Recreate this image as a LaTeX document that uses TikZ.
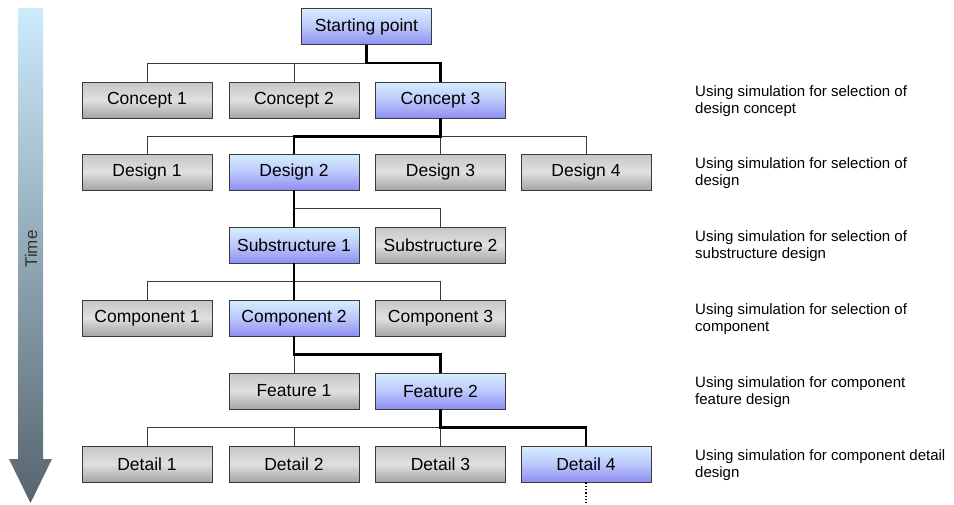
\documentclass[tikz,border=0pt]{standalone}
\usepackage{fontspec}
\setmainfont{Liberation Sans}
\usetikzlibrary{calc}
\definecolor{edge}{HTML}{3A3A3A}
\definecolor{greytop}{HTML}{C6C6C6}
\definecolor{greymid}{HTML}{E0E0E0}
\definecolor{greybot}{HTML}{A4A4A4}
\definecolor{bluetop}{HTML}{D4EEFF}
\definecolor{bluemid}{HTML}{BCC8FB}
\definecolor{bluebot}{HTML}{8E8EF2}
\definecolor{timetop}{HTML}{CCEBFC}
\definecolor{timebot}{HTML}{56646E}
\tikzset{
  boxbase/.style={draw=edge, line width=0.9pt, minimum width=130pt, minimum height=36pt,
    inner sep=0pt, font=\fontsize{17.5}{20}\selectfont},
  greybox/.style={boxbase, top color=greytop, bottom color=greybot, middle color=greymid},
  bluebox/.style={boxbase, top color=bluetop, bottom color=bluebot, middle color=bluemid},
  link/.style={draw=edge, line width=0.9pt},
  chosen/.style={draw=black, line width=2.4pt},
  note/.style={anchor=west, align=left, inner sep=0pt, text=black,
    font=\fontsize{15}{17}\selectfont},
}
\begin{document}
\begin{tikzpicture}[x=1pt,y=-1pt]
\useasboundingbox (0,0) rectangle (954,504);

% time axis
\shade[top color=timetop, bottom color=timebot]
  (18,8) -- (43,8) -- (43,459) -- (52,459) -- (30.5,503) -- (9,459) -- (18,459) -- cycle;
\node[rotate=90, text=black!80, font=\fontsize{17}{20}\selectfont] (time) at (31,249) {Time};

% boxes
\node[bluebox] (sp) at (366.5,26.5) {Starting point};

\node[greybox] (c1) at (147,100) {Concept 1};
\node[greybox] (c2) at (294,100) {Concept 2};
\node[bluebox] (c3) at (440.5,100) {Concept 3};

\node[greybox] (d1) at (147,172) {Design 1};
\node[bluebox] (d2) at (294,172) {Design 2};
\node[greybox] (d3) at (440.5,172) {Design 3};
\node[greybox] (d4) at (586,172) {Design 4};

\node[bluebox] (s1) at (294,245) {Substructure 1};
\node[greybox] (s2) at (440.5,245) {Substructure 2};

\node[greybox] (k1) at (147,318) {Component 1};
\node[bluebox] (k2) at (294,318) {Component 2};
\node[greybox] (k3) at (440.5,318) {Component 3};

\node[greybox] (f1) at (294,391) {Feature 1};
\node[bluebox] (f2) at (440.5,391) {Feature 2};

\node[greybox] (e1) at (147,464) {Detail 1};
\node[greybox] (e2) at (294,464) {Detail 2};
\node[greybox] (e3) at (440.5,464) {Detail 3};
\node[bluebox] (e4) at (586,464) {Detail 4};

% branching buses
\coordinate (b1) at ($(sp.south)+(0,18)$);
\coordinate (b2) at ($(c3.south)+(0,18)$);
\coordinate (b3) at ($(d2.south)+(0,18)$);
\coordinate (b4) at ($(s1.south)+(0,18)$);
\coordinate (b5) at ($(k2.south)+(0,18)$);
\coordinate (b6) at ($(f2.south)+(0,18)$);

\draw[link] (c1.north) |- (b1) -| (c3.north);
\draw[link] (c2.north) -- (c2.north |- b1);
\draw[link] (sp.south) -- (b1);

\draw[link] (d1.north) |- (b2) -| (d4.north);
\draw[link] (d2.north) -- (d2.north |- b2);
\draw[link] (c3.south) -- (d3.north);

\draw[link] (d2.south) |- (b3) -| (s2.north);
\draw[link] (b3) -- (s1.north);

\draw[link] (k1.north) |- (b4) -| (k3.north);
\draw[link] (s1.south) -- (k2.north);

\draw[link] (k2.south) |- (b5) -| (f2.north);
\draw[link] (b5) -- (f1.north);

\draw[link] (e1.north) |- (b6) -| (e4.north);
\draw[link] (e2.north) -- (e2.north |- b6);
\draw[link] (f2.south) -- (e3.north);

% chosen route
\draw[chosen] (sp.south) |- (c3.north |- b1) -- (c3.north);
\draw[chosen] (c3.south) |- (d2.north |- b2) -- (d2.north);
\draw[chosen] (d2.south) -- (s1.north);
\draw[chosen] (s1.south) -- (k2.north);
\draw[chosen] (k2.south) |- (f2.north |- b5) -- (f2.north);
\draw[chosen] (f2.south) |- (e4.north |- b6) -- (e4.north);

% continuation
\coordinate (tail) at ($(e4.south)+(0,21)$);
\draw[black, line width=1.4pt, dash pattern=on 1.3pt off 2pt] (e4.south) -- (tail);

% stage notes
\node[note] (n1) at (695,101) {Using simulation for selection of\\design concept};
\node[note] (n2) at (695,173) {Using simulation for selection of\\design};
\node[note] (n3) at (695,246) {Using simulation for selection of\\substructure design};
\node[note] (n4) at (695,319) {Using simulation for selection of\\component};
\node[note] (n5) at (695,392) {Using simulation for component\\feature design};
\node[note] (n6) at (695,465) {Using simulation for component detail\\design};
\end{tikzpicture}
\end{document}
